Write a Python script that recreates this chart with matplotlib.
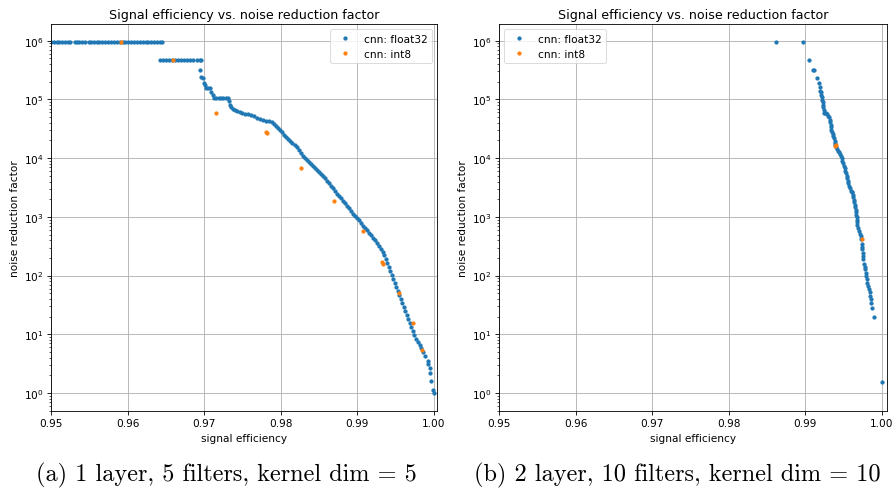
import numpy as np
import matplotlib
matplotlib.use('Agg')
import matplotlib.pyplot as plt

# values (signal efficiency, noise reduction factor)

# (a) 1 layer, 5 filters, kernel dim = 5
a_hi_x = [0.9500, 0.9504, 0.9508, 0.9511, 0.9515, 0.9518, 0.9522, 0.9525,
          0.9531, 0.9534, 0.9537, 0.9541, 0.9545, 0.9549, 0.9552, 0.9556,
          0.9560, 0.9563, 0.9567, 0.9571, 0.9575, 0.9578, 0.9582, 0.9586,
          0.9590, 0.9594, 0.9597, 0.9601, 0.9605, 0.9609, 0.9612, 0.9616,
          0.9620, 0.9624, 0.9627, 0.9631, 0.9635, 0.9638, 0.9642, 0.9645]
a_hi_level = 9.6e5
a_mid_x = [0.9642, 0.9646, 0.9650, 0.9654, 0.9658, 0.9662, 0.9666, 0.9670,
           0.9674, 0.9678, 0.9682, 0.9686, 0.9690, 0.9694, 0.9696]
a_mid_level = 4.77e5
a_f32_x = [0.96945, 0.96965, 0.96984, 0.96997, 0.97010, 0.97023, 0.97050, 0.97076,
           0.97089, 0.97115, 0.97128, 0.97160, 0.97190, 0.97220, 0.97250, 0.97280,
           0.97310, 0.97324, 0.97337, 0.97350, 0.97376, 0.97402, 0.97428, 0.97467,
           0.97493, 0.97533, 0.97572, 0.97611, 0.97650, 0.97689, 0.97728, 0.97768,
           0.97807, 0.97846, 0.97885, 0.97911, 0.97937, 0.97963, 0.97990, 0.98016,
           0.98042, 0.98068, 0.98094, 0.98120, 0.98146, 0.98185, 0.98211, 0.98238,
           0.98264, 0.98290, 0.98316, 0.98342, 0.98368, 0.98394, 0.98420, 0.98446,
           0.98473, 0.98499, 0.98525, 0.98551, 0.98577, 0.98603, 0.98629, 0.98655,
           0.98681, 0.98708, 0.98734, 0.98760, 0.98786, 0.98812, 0.98838, 0.98864,
           0.98890, 0.98916, 0.98943, 0.98969, 0.98995, 0.99021, 0.99047, 0.99073,
           0.99099, 0.99125, 0.99151, 0.99178, 0.99204, 0.99230, 0.99256, 0.99282,
           0.99308, 0.99334, 0.99353, 0.99373, 0.99392, 0.99412, 0.99432, 0.99452,
           0.99471, 0.99491, 0.99510, 0.99530, 0.99550, 0.99569, 0.99589, 0.99608,
           0.99628, 0.99648, 0.99667, 0.99687, 0.99707, 0.99726, 0.99746, 0.99765,
           0.99791, 0.99817, 0.99837, 0.99860, 0.99882, 0.99918, 0.99918, 0.99948,
           0.99948, 0.99961, 0.99991, 1.00000]
a_f32_y = [3.18e5, 2.42e5, 2.32e5, 1.91e5, 1.77e5, 1.57e5, 1.57e5, 1.57e5,
           1.35e5, 1.20e5, 1.07e5, 1.05e5, 1.05e5, 1.05e5, 1.05e5, 1.05e5,
           1.05e5, 9.4e4, 8.1e4, 7.45e4, 6.9e4, 6.6e4, 6.25e4, 6.0e4,
           5.77e4, 5.66e4, 5.55e4, 5.44e4, 5.13e4, 4.93e4, 4.65e4, 4.48e4,
           4.30e4, 4.22e4, 4.06e4, 3.83e4, 3.54e4, 3.27e4, 3.02e4, 2.79e4,
           2.53e4, 2.30e4, 2.12e4, 1.96e4, 1.82e4, 1.68e4, 1.55e4, 1.38e4,
           1.23e4, 1.09e4, 1.01e4, 9.3e3, 8.6e3, 7.96e3, 7.36e3, 6.81e3,
           6.30e3, 5.82e3, 5.38e3, 4.98e3, 4.51e3, 4.09e3, 3.71e3, 3.36e3,
           3.05e3, 2.76e3, 2.50e3, 2.27e3, 2.06e3, 1.87e3, 1.69e3, 1.53e3,
           1.39e3, 1.26e3, 1.14e3, 1.04e3, 9.6e2, 8.7e2, 7.9e2, 7.1e2,
           6.47e2, 5.87e2, 5.32e2, 4.82e2, 4.37e2, 3.96e2, 3.59e2, 3.19e2,
           2.84e2, 2.52e2, 2.24e2, 1.92e2, 1.64e2, 1.40e2, 1.20e2, 1.02e2,
           87.5, 74.8, 64.0, 54.7, 46.7, 39.9, 34.1, 29.2,
           24.9, 21.3, 18.2, 15.6, 13.3, 11.4, 9.73, 8.32,
           7.39, 6.57, 5.84, 4.94, 4.32, 3.47, 3.12, 2.64,
           2.19, 1.62, 1.14, 1.0]
a_int8_x = [0.95914, 0.96593, 0.97150, 0.97807, 0.97816, 0.98264, 0.98695,
            0.99069, 0.99326, 0.99334, 0.99543, 0.99730, 0.99839]
a_int8_y = [9.6e5, 4.77e5, 5.89e4, 2.79e4, 2.64e4, 6.73e3, 1.85e3,
            5.69e2, 1.68e2, 1.60e2, 49.9, 15.6, 5.40]

# (b) 2 layer, 10 filters, kernel dim = 10
b_f32_x = [0.98616, 0.98973, 0.99051, 0.99105, 0.99111, 0.99155, 0.99181, 0.99194,
           0.99197, 0.99204, 0.99209, 0.99213, 0.99220, 0.99226, 0.99230, 0.99234,
           0.99240, 0.99247, 0.99258, 0.99269, 0.99286, 0.99297, 0.99308, 0.99315,
           0.99321, 0.99328, 0.99334, 0.99340, 0.99347, 0.99356, 0.99364, 0.99373,
           0.99382, 0.99386, 0.99390, 0.99403, 0.99416, 0.99429, 0.99442, 0.99454,
           0.99465, 0.99474, 0.99482, 0.99493, 0.99504, 0.99512, 0.99521, 0.99530,
           0.99539, 0.99548, 0.99556, 0.99562, 0.99569, 0.99580, 0.99591, 0.99602,
           0.99612, 0.99618, 0.99625, 0.99632, 0.99638, 0.99645, 0.99651, 0.99656,
           0.99661, 0.99666, 0.99670, 0.99670, 0.99672, 0.99680, 0.99688, 0.99700,
           0.99710, 0.99720, 0.99730, 0.99735, 0.99740, 0.99743, 0.99748, 0.99752,
           0.99756, 0.99765, 0.99772, 0.99778, 0.99786, 0.99793, 0.99800, 0.99810,
           0.99821, 0.99830, 0.99839, 0.99848, 0.99856, 0.99860, 0.99873, 0.99899,
           1.00000]
b_f32_y = [9.6e5, 9.6e5, 4.77e5, 3.22e5, 3.15e5, 2.35e5, 1.91e5, 1.61e5,
           1.38e5, 1.33e5, 1.20e5, 1.09e5, 9.9e4, 8.96e4, 8.1e4, 7.36e4,
           6.6e4, 5.89e4, 5.8e4, 5.77e4, 5.66e4, 5.3e4, 4.98e4, 4.5e4,
           4.09e4, 3.7e4, 3.36e4, 3.05e4, 2.76e4, 2.58e4, 2.42e4, 2.2e4,
           1.99e4, 1.83e4, 1.68e4, 1.55e4, 1.43e4, 1.34e4, 1.26e4, 1.18e4,
           1.10e4, 1.0e4, 9.06e3, 8.2e3, 7.45e3, 6.7e3, 6.12e3, 5.55e3,
           5.04e3, 4.55e3, 4.14e3, 3.75e3, 3.40e3, 3.05e3, 2.79e3, 2.70e3,
           2.62e3, 2.38e3, 2.16e3, 1.95e3, 1.77e3, 1.6e3, 1.46e3, 1.32e3,
           1.20e3, 1.09e3, 9.85e2, 8.9e2, 8.09e2, 7.3e2, 6.5e2, 5.82e2,
           5.2e2, 4.7e2, 4.21e2, 3.5e2, 3.1e2, 2.84e2, 2.4e2, 2.15e2,
           1.92e2, 1.6e2, 1.42e2, 1.29e2, 1.1e2, 98.0, 87.5, 76.0,
           67.3, 59.0, 52.0, 45.0, 39.9, 34.1, 27.7, 19.5,
           1.56]
b_int8_x = [0.99390, 0.99395, 0.99735]
b_int8_y = [1.63e4, 1.70e4, 4.2e2]

title = 'Signal efficiency vs. noise reduction factor'
captions = ['(a) 1 layer, 5 filters, kernel dim = 5',
            '(b) 2 layer, 10 filters, kernel dim = 10']

s = 0.76  # the panels were saved at default size and shrunk into the page
plt.rcParams.update({
    'font.size': 10 * s,
    'axes.titlesize': 12 * s,
    'axes.titlepad': 6 * s,
    'axes.labelpad': 4 * s,
    'axes.linewidth': 0.8 * s,
    'legend.fontsize': 10 * s,
    'xtick.major.size': 3.5 * s,
    'ytick.major.size': 3.5 * s,
    'xtick.minor.size': 2 * s,
    'ytick.minor.size': 2 * s,
    'xtick.major.width': 0.8 * s,
    'ytick.major.width': 0.8 * s,
    'xtick.minor.width': 0.6 * s,
    'ytick.minor.width': 0.6 * s,
    'xtick.major.pad': 3.5 * s,
    'ytick.major.pad': 3.5 * s,
    'grid.linewidth': 0.8 * s,
    'patch.linewidth': 0.8 * s,
})

fig = plt.figure(figsize=(8.95, 4.89), dpi=100)
ax1 = fig.add_axes([0.05698, 0.15746, 0.4318, 0.7914])
ax2 = fig.add_axes([0.55754, 0.15746, 0.4335, 0.7914])

a_x = a_hi_x + a_mid_x + a_f32_x
a_y = [a_hi_level] * len(a_hi_x) + [a_mid_level] * len(a_mid_x) + a_f32_y

panels = [
    (ax1, a_x, a_y, a_int8_x, a_int8_y, 'upper right', 1.00046),
    (ax2, b_f32_x, b_f32_y, b_int8_x, b_int8_y, 'upper left', 1.00065),
]

for ax, fx, fy, ix, iy, loc, xmax in panels:
    ax.plot(fx, fy, '.', ms=6 * s, mew=s, label='cnn: float32')
    ax.plot(ix, iy, '.', ms=6 * s, mew=s, label='cnn: int8')
    ax.set_yscale('log')
    ax.set_xlim(0.95, xmax)
    ax.set_ylim(0.493, 1.93e6)
    ax.set_xticks([0.95, 0.96, 0.97, 0.98, 0.99, 1.00])
    ax.set_xticklabels(['0.95', '0.96', '0.97', '0.98', '0.99', '1.00'])
    ax.grid(True)
    ax.set_title(title)
    ax.set_xlabel('signal efficiency')
    ax.set_ylabel('noise reduction factor')
    ax.legend(loc=loc)

# sub-captions sit at the bottom edge, as in the page they were cut from
fig.text(226.8 / 895, 1 - 475 / 489, captions[0], ha='center', va='center',
         fontfamily='cmr10', fontsize=17.5)
fig.text(677 / 895, 1 - 475 / 489, captions[1], ha='center', va='center',
         fontfamily='cmr10', fontsize=17.5)

fig.savefig('out.png', dpi=100)
